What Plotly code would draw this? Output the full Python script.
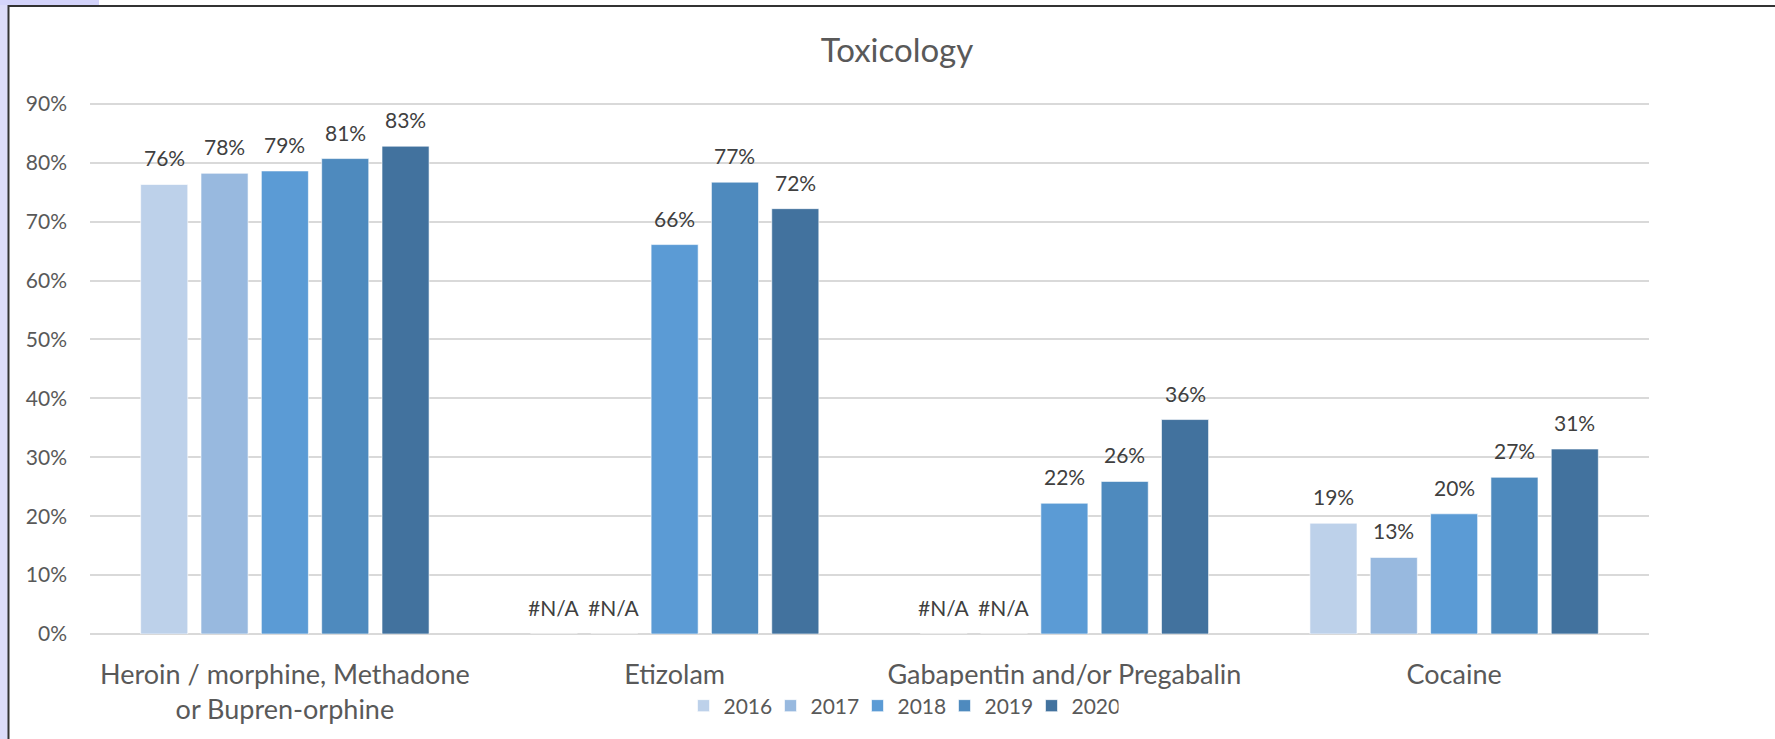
import plotly.graph_objects as go

# data
categories = ["Heroin / morphine, Methadone<br>or Bupren-orphine", "Etizolam",
              "Gabapentin and/or Pregabalin", "Cocaine"]
years = ["2016", "2017", "2018", "2019", "2020"]
values_2016 = [0.763, None, None, 0.188]
values_2017 = [0.782, None, None, 0.130]
values_2018 = [0.786, 0.661, 0.222, 0.204]
values_2019 = [0.807, 0.767, 0.259, 0.266]
values_2020 = [0.828, 0.722, 0.364, 0.314]
series = [values_2016, values_2017, values_2018, values_2019, values_2020]
colors = ["#BDD1EA", "#98B9DF", "#5B9BD5", "#4E8ABE", "#42729E"]

# page geometry
W, H = 1775, 739
ml, mr, mt, mb = 90, 126, 92, 105
plot_w = W - ml - mr
plot_h = H - mt - mb
bargap = 0.226
bargroupgap = 0.22


def px2x(px):
    return (px - ml) / plot_w


def py2y(py):
    return (H - mb - py) / plot_h


font_name = "Lato"
grey = "#595959"

fig = go.Figure()
for year, vals, col in zip(years, series, colors):
    fig.add_trace(go.Bar(
        name=year, x=categories,
        y=[v if v is not None else 0 for v in vals],
        marker=dict(color=col, line=dict(color="rgba(255,255,255,0.6)", width=1)),
        hoverinfo="skip",
    ))

# data labels (Excel puts them a bit above the bars)
slot = plot_w / len(categories) * (1 - bargap) / len(years)
annotations = []
for i, vals in enumerate(series):
    for cat, v in zip(categories, vals):
        annotations.append(dict(
            x=cat, y=v if v is not None else 0, xref="x", yref="y",
            text=f"{v:.0%}" if v is not None else "#N/A",
            showarrow=False, yanchor="bottom", xanchor="center",
            xshift=(i - 2) * slot, yshift=12,
            font=dict(family=font_name, size=21, color="#404040"),
        ))

shapes = [
    # lavender strip on the left and top-left tab
    dict(type="rect", xref="paper", yref="paper", x0=px2x(0), x1=px2x(8),
         y0=py2y(H), y1=py2y(0), fillcolor="#DCDCF9", line_width=0, layer="above"),
    dict(type="rect", xref="paper", yref="paper", x0=px2x(0), x1=px2x(99),
         y0=py2y(5), y1=py2y(0), fillcolor="#D4D4FB", line_width=0, layer="above"),
    # dark frame lines
    dict(type="line", xref="paper", yref="paper", x0=px2x(8.5), x1=px2x(8.5),
         y0=py2y(H), y1=py2y(5), line=dict(color="#333333", width=2), layer="above"),
    dict(type="line", xref="paper", yref="paper", x0=px2x(8), x1=px2x(W),
         y0=py2y(6), y1=py2y(6), line=dict(color="#333333", width=2), layer="above"),
]

fig.update_layout(
    width=W, height=H,
    margin=dict(l=ml, r=mr, t=mt, b=mb, autoexpand=False),
    paper_bgcolor="white",
    plot_bgcolor="white",
    font=dict(family=font_name, color=grey),
    title=dict(text="Toxicology", x=897 / W, xref="container", xanchor="center",
               y=1 - 50 / H, yanchor="middle", font=dict(size=33, color=grey)),
    barmode="group",
    bargap=bargap,
    bargroupgap=bargroupgap,
    showlegend=True,
    legend=dict(orientation="h", x=px2x(901), xanchor="center", y=py2y(706), yanchor="middle",
                font=dict(size=21, color=grey), entrywidth=42, entrywidthmode="pixels",
                traceorder="normal"),
    xaxis=dict(showgrid=False, showline=False, ticks="", ticklabelstandoff=22,
               automargin=False, tickfont=dict(size=27, color=grey)),
    yaxis=dict(range=[0, 0.92], dtick=0.1, tickformat=".0%", showgrid=True,
               gridcolor="#D9D9D9", gridwidth=2, zeroline=True, zerolinecolor="#D9D9D9",
               zerolinewidth=2, showline=False, ticklabelstandoff=22, automargin=False,
               tickfont=dict(size=21, color=grey)),
    annotations=annotations,
    shapes=shapes,
)

fig.write_html("out.html", config={"displayModeBar": False},
               post_script="document.body.style.margin='0';")
